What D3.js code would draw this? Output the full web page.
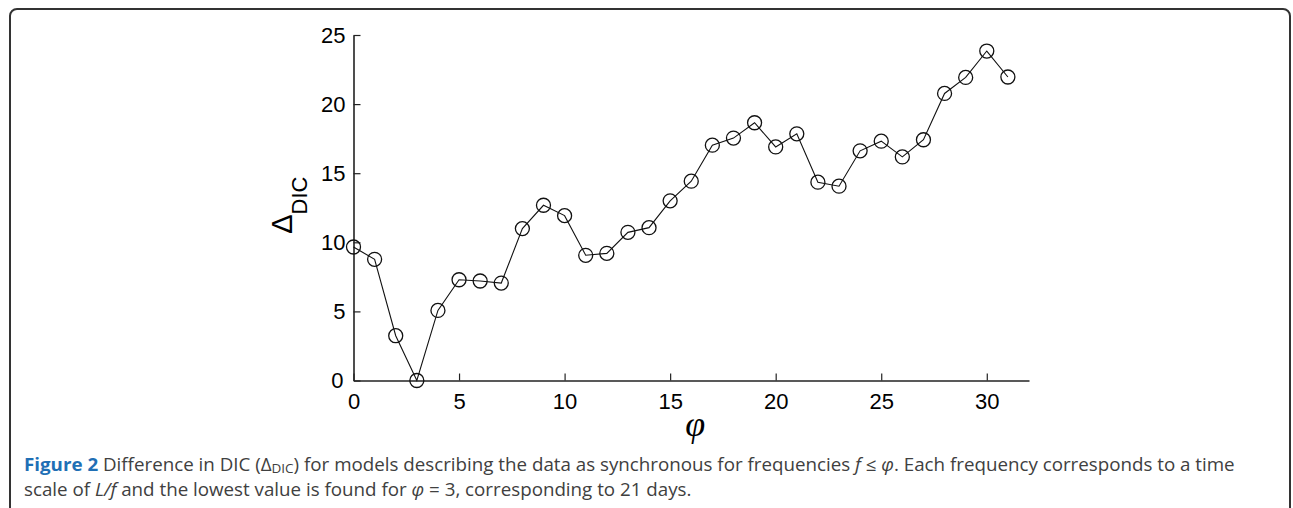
<!DOCTYPE html>
<html>
<head>
<meta charset="utf-8">
<script src="https://cdn.jsdelivr.net/npm/d3@7"></script>
<style>
  html, body { margin: 0; padding: 0; background: #fff; }
  svg { display: block; }
</style>
</head>
<body>
<svg id="chart" width="1293" height="508"></svg>
<script>
// ---- data ----
const phiValues = [0,1,2,3,4,5,6,7,8,9,10,11,12,13,14,15,16,17,18,19,20,21,22,23,24,25,26,27,28,29,30,31];
const deltaDIC = [9.66,8.77,3.24,0,5.07,7.29,7.2,7.05,10.99,12.68,11.93,9.06,9.2,10.72,11.06,13.0,14.42,17.03,17.54,18.65,16.9,17.85,14.35,14.06,16.62,17.32,16.18,17.42,20.77,21.93,23.84,21.96];
const xTickValues = [0,5,10,15,20,25,30];
const yTickValues = [0,5,10,15,20,25];

const svg = d3.select("#chart");

// frame
svg.append("rect")
  .attr("x", 10).attr("y", 9)
  .attr("width", 1280).attr("height", 600)
  .attr("rx", 7).attr("ry", 7)
  .attr("fill", "none").attr("stroke", "#333").attr("stroke-width", 2);

const x = d3.scaleLinear().domain([0, 32]).range([353.5, 1029]);
const y = d3.scaleLinear().domain([0, 25]).range([380.5, 35]);

const g = svg.append("g");

// x axis
const xAxis = g.append("g")
  .attr("transform", `translate(0,${y(0)})`)
  .call(d3.axisBottom(x).tickValues(xTickValues).tickSize(-7).tickPadding(13).tickSizeOuter(0));
xAxis.select(".domain").attr("stroke", "#222").attr("stroke-width", 1.6);
xAxis.selectAll(".tick line").attr("stroke", "#222").attr("stroke-width", 1.2);
xAxis.selectAll(".tick text")
  .attr("font-family", "Liberation Sans, Arial, sans-serif")
  .attr("font-size", 22).attr("fill", "#000");

// y axis
const yAxis = g.append("g")
  .attr("transform", `translate(${x(0)},0)`)
  .call(d3.axisLeft(y).tickValues(yTickValues).tickSize(-7).tickPadding(8).tickSizeOuter(0));
yAxis.select(".domain").attr("stroke", "#222").attr("stroke-width", 1.6);
yAxis.selectAll(".tick line").attr("stroke", "#222").attr("stroke-width", 1.2);
yAxis.selectAll(".tick text")
  .attr("font-family", "Liberation Sans, Arial, sans-serif")
  .attr("font-size", 22).attr("fill", "#000");
yAxis.selectAll(".tick").filter(d => d === 0).select("text").attr("dx", -2);

// line
const pts = phiValues.map((p, i) => [p, deltaDIC[i]]);
g.append("path")
  .datum(pts)
  .attr("fill", "none").attr("stroke", "#111").attr("stroke-width", 1.1)
  .attr("d", d3.line().x(d => x(d[0])).y(d => y(d[1])));

// markers
g.selectAll("circle.pt")
  .data(pts).enter().append("circle")
  .attr("class", "pt")
  .attr("cx", d => x(d[0])).attr("cy", d => y(d[1]))
  .attr("r", 7)
  .attr("fill", "none").attr("stroke", "#111").attr("stroke-width", 1.3);

// y label
const yl = svg.append("text")
  .attr("transform", `translate(292,${(y(0)+y(25))/2 + 26}) rotate(-90)`)
  .attr("font-family", "Liberation Sans, Arial, sans-serif")
  .attr("fill", "#000");
yl.append("tspan").attr("font-size", 29).text("Δ");
yl.append("tspan").attr("font-size", 22).attr("dy", 15).text("DIC");

// x label
svg.append("text")
  .attr("x", (x(0) + x(32)) / 2 + 4).attr("y", 436)
  .attr("text-anchor", "middle")
  .attr("font-family", "Liberation Serif, serif")
  .attr("font-style", "italic")
  .attr("font-size", 36)
  .attr("fill", "#000")
  .text("φ");

// caption
const capFont = "Open Sans, Noto Sans, sans-serif";
const capFs = 17.5;
const cap1 = svg.append("text").attr("x", 0).attr("y", 0)
  .attr("font-family", capFont).attr("font-size", capFs).attr("fill", "#404040");
cap1.append("tspan").attr("font-weight", "bold").attr("fill", "#1f6fb5").text("Figure 2");
cap1.append("tspan").text(" Difference in DIC (Δ");
cap1.append("tspan").attr("font-size", "0.72em").attr("dy", 2).text("DIC");
cap1.append("tspan").attr("dy", -2).text(") for models describing the data as synchronous for frequencies ");
cap1.append("tspan").attr("font-style", "italic").text("f");
cap1.append("tspan").text(" ≤ ");
cap1.append("tspan").attr("font-style", "italic").text("φ");
cap1.append("tspan").text(". Each frequency corresponds to a time");

const cap2 = svg.append("text").attr("x", 0).attr("y", 0)
  .attr("font-family", capFont).attr("font-size", capFs).attr("fill", "#404040");
cap2.append("tspan").text("scale of ");
cap2.append("tspan").attr("font-style", "italic").text("L/f");
cap2.append("tspan").text(" and the lowest value is found for ");
cap2.append("tspan").attr("font-style", "italic").text("φ");
cap2.append("tspan").text(" = 3, corresponding to 21 days.");

// condense caption horizontally so line 1 spans target width
const w = cap1.node().getComputedTextLength();
const sx = 1212 / w;
cap1.attr("transform", `translate(24,471) scale(${sx},1)`);
cap2.attr("transform", `translate(24,496) scale(${sx},1)`);
</script>
</body>
</html>
